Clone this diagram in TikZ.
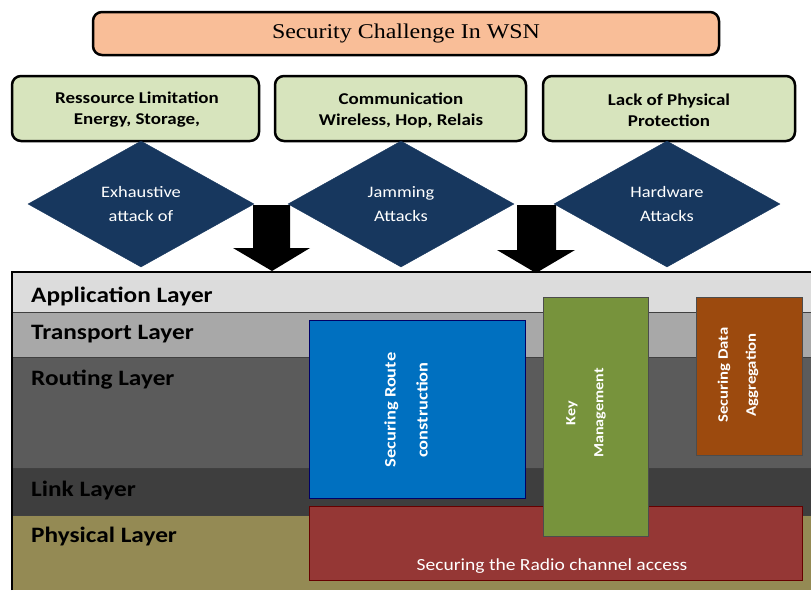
\documentclass[tikz,border=0pt]{standalone}
\usepackage{fontspec}
\setmainfont{Carlito}[FakeStretch=1.15]
\newfontfamily\serifttl{Liberation Serif}[FakeStretch=1.14]
\usetikzlibrary{shapes.geometric}
\definecolor{titlefill}{HTML}{F9BE98}
\definecolor{greenfill}{HTML}{D7E4BD}
\definecolor{navy}{HTML}{17375E}
\definecolor{appc}{HTML}{DCDCDC}
\definecolor{transc}{HTML}{A8A8A8}
\definecolor{routc}{HTML}{5B5B5B}
\definecolor{linkc}{HTML}{3E3E3E}
\definecolor{physc}{HTML}{948A54}
\definecolor{bluec}{HTML}{0070C0}
\definecolor{keyc}{HTML}{77933C}
\definecolor{brownc}{HTML}{9C4A0E}
\definecolor{redc}{HTML}{953735}
\tikzset{
  challenge/.style={draw=black, line width=2.5pt, rounded corners=9pt, fill=greenfill},
  challengetxt/.style={align=center, font=\fontsize{16.5}{21}\selectfont\bfseries, inner sep=0pt},
  attack/.style={diamond, fill=navy, draw=navy, text=white, align=center, font=\fontsize{16}{24}\selectfont, inner sep=0pt, minimum width=226pt, minimum height=126pt, aspect=1.8},
  layertxt/.style={anchor=west, font=\fontsize{22}{24}\selectfont\bfseries, text=black, inner sep=0pt},
  rottxt/.style={rotate=90, text=white, align=center}
}
\begin{document}
\begin{tikzpicture}[x=1pt,y=-1pt]
\useasboundingbox (0,0) rectangle (811,590);
% title
\draw[line width=2.5pt, rounded corners=9pt, fill=titlefill] (93,12) rectangle (719,55);
\node[font=\serifttl\fontsize{21}{24}\selectfont] (title) at (406,33) {Security Challenge In WSN};
% challenge boxes
\draw[challenge] (12,76) rectangle (259,141);
\node[challengetxt] (c1) at (137,110) {Ressource Limitation\\Energy, Storage,};
\draw[challenge] (275,76) rectangle (526,141);
\node[challengetxt] (c2) at (401,110) {Communication\\Wireless, Hop, Relais};
\draw[challenge] (543,76) rectangle (795,141);
\node[challengetxt] (c3) at (669,110) {Lack of Physical\\Protection};
% layers
\fill[appc] (12,273) rectangle (811,312);
\fill[transc] (12,312) rectangle (811,357);
\fill[routc] (12,357) rectangle (811,468);
\fill[linkc] (12,468) rectangle (811,515);
\fill[physc] (12,515) rectangle (811,590);
\draw[black!75, line width=1pt] (12,312) -- (811,312) (12,357) -- (811,357) (12,468) -- (811,468) (12,515) -- (811,515);
\draw[black, line width=2pt] (12,590) -- (12,272) -- (811,272);
\node[layertxt] (l1) at (31,296) {Application Layer};
\node[layertxt] (l2) at (31,334) {Transport Layer};
\node[layertxt] (l3) at (31,380) {Routing Layer};
\node[layertxt] (l4) at (31,491) {Link Layer};
\node[layertxt] (l5) at (31,537) {Physical Layer};
% security boxes
\draw[fill=bluec, draw=black!60!blue, line width=1pt] (309,320) rectangle (525,498);
\node[rottxt, font=\fontsize{16}{32}\selectfont\bfseries] (sr) at (406,410) {Securing Route\\construction};
\draw[fill=redc, draw=black!60!red, line width=1pt] (309,506) rectangle (802,580);
\node[text=white, font=\fontsize{17}{18}\selectfont] (sra) at (552,566) {Securing the Radio channel access};
\draw[fill=keyc, draw=black!70, line width=1pt] (543,297) rectangle (648,536);
\node[rottxt, font=\fontsize{14}{28}\selectfont\bfseries] (km) at (586,413) {Key\\Management};
\draw[fill=brownc, draw=black!70, line width=1pt] (696,297) rectangle (802,455);
\node[rottxt, font=\fontsize{14.5}{28}\selectfont\bfseries] (sda) at (738,375) {Securing Data\\Aggregation};
% arrows
\fill[black] (253,205) -- (290,205) -- (290,248) -- (310,248) -- (272,271) -- (233,248) -- (253,248) -- cycle;
\fill[black] (517,205) -- (556,205) -- (556,250) -- (575,250) -- (536,273) -- (497,250) -- (517,250) -- cycle;
% attacks
\node[attack] (a1) at (141,204) {Exhaustive\\attack of};
\node[attack] (a2) at (401,204) {Jamming\\Attacks};
\node[attack] (a3) at (667,204) {Hardware\\Attacks};
\end{tikzpicture}
\end{document}
